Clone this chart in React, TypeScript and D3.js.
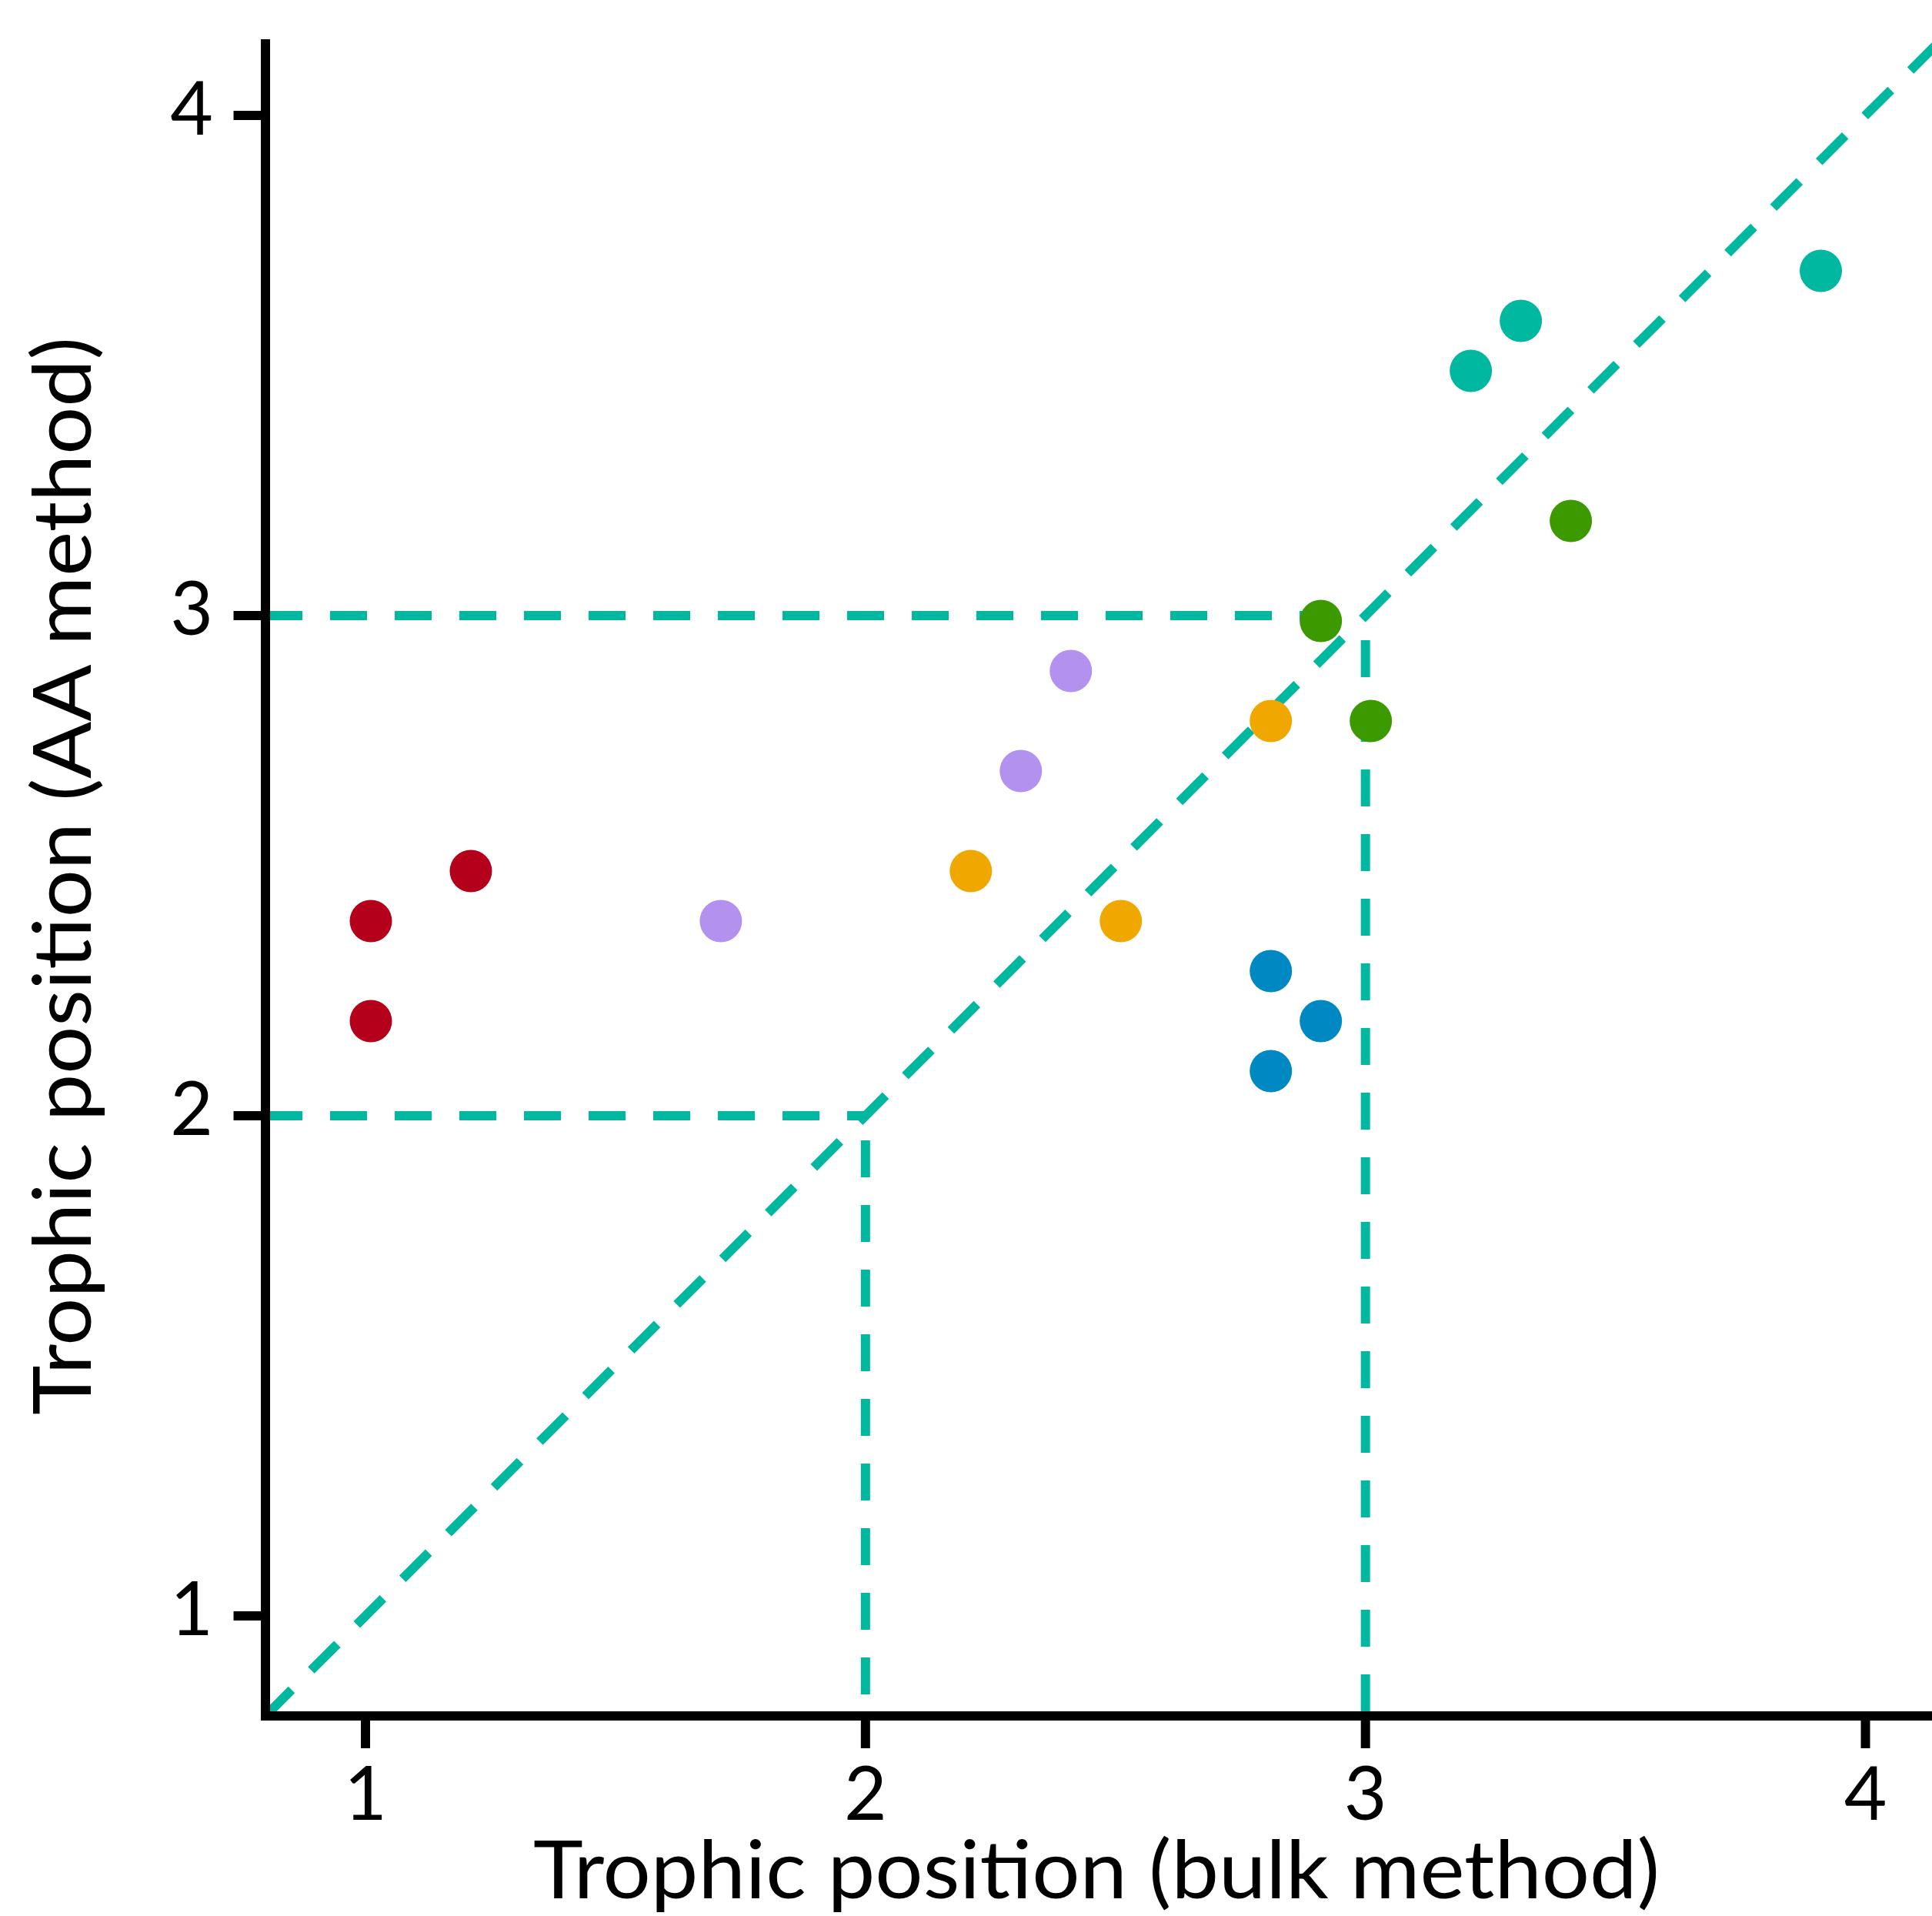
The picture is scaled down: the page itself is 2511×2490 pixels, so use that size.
import React, { useEffect, useRef } from 'react';
import * as d3 from 'd3';

// trophic positions
const groups = ['red', 'purple', 'orange', 'blue', 'green', 'teal'];
const groupColors = ['#b5001b', '#b292ee', '#f0a800', '#0088c2', '#3c9a00', '#00b8a0'];
const bulkTP = [1.0, 1.0, 1.2, 1.7, 2.3, 2.4, 2.2, 2.5, 2.8, 2.8, 2.9, 2.8, 2.9, 3.0, 3.4, 3.2, 3.3, 3.9];
const aaTP = [2.4, 2.2, 2.5, 2.4, 2.7, 2.9, 2.5, 2.4, 2.8, 2.3, 2.2, 2.1, 3.0, 2.8, 3.2, 3.5, 3.6, 3.7];
const pointGroup = [0, 0, 0, 1, 1, 1, 2, 2, 2, 3, 3, 3, 4, 4, 4, 5, 5, 5];
const tickValues = [1, 2, 3, 4];
// dashed guides: drop lines from the 1:1 line
const guideValues = [2, 3];

const xLabel = 'Trophic position (bulk method)';
const yLabel = 'Trophic position (AA method)';

function App() {
    const svgRef = useRef(null);

    useEffect(() => {
        document.body.style.margin = '0';
        const width = 2511;
        const height = 2490;
        const svg = d3.select(svgRef.current)
            .attr('width', width)
            .attr('height', height);
        svg.selectAll('*').remove();

        const x = d3.scaleLinear().domain([1, 4]).range([475, 2424.5]);
        const y = d3.scaleLinear().domain([1, 4]).range([2100, 150]);
        const lo = 0.8;
        const teal = '#00b8a0';
        const font = 'Lato, "Noto Sans", sans-serif';

        const dash = '48 36';

        // 1:1 line
        svg.append('line')
            .attr('x1', x(lo)).attr('y1', y(lo))
            .attr('x2', x(4.3)).attr('y2', y(4.3))
            .attr('stroke', teal)
            .attr('stroke-width', 12)
            .attr('stroke-dasharray', dash);

        guideValues.forEach(v => {
            svg.append('line')
                .attr('x1', x(lo)).attr('y1', y(v))
                .attr('x2', x(v)).attr('y2', y(v))
                .attr('stroke', teal)
                .attr('stroke-width', 12)
                .attr('stroke-dasharray', dash);
            svg.append('line')
                .attr('x1', x(v)).attr('y1', y(v))
                .attr('x2', x(v)).attr('y2', y(lo))
                .attr('stroke', teal)
                .attr('stroke-width', 12)
                .attr('stroke-dasharray', dash)
                .attr('stroke-dashoffset', 52);
        });

        // points (the original draws them nudged a few px right/down)
        svg.append('g')
            .attr('transform', 'translate(7,7)')
            .selectAll('circle')
            .data(bulkTP.map((b, i) => ({ b, a: aaTP[i], g: pointGroup[i] })))
            .enter()
            .append('circle')
            .attr('class', d => 'pt ' + groups[d.g])
            .attr('cx', d => x(d.b))
            .attr('cy', d => y(d.a))
            .attr('r', 27.5)
            .attr('fill', d => groupColors[d.g]);

        // axes
        const axisY = y(lo);
        const axisX = x(lo);
        svg.append('line')
            .attr('x1', axisX).attr('y1', 51)
            .attr('x2', axisX).attr('y2', axisY + 6)
            .attr('stroke', '#000').attr('stroke-width', 12);
        svg.append('line')
            .attr('x1', axisX - 6).attr('y1', axisY)
            .attr('x2', width).attr('y2', axisY)
            .attr('stroke', '#000').attr('stroke-width', 12);

        const xTicks = svg.append('g');
        tickValues.forEach(t => {
            xTicks.append('line')
                .attr('x1', x(t)).attr('x2', x(t))
                .attr('y1', axisY).attr('y2', axisY + 42)
                .attr('stroke', '#000').attr('stroke-width', 12);
            xTicks.append('text')
                .attr('x', x(t))
                .attr('y', axisY + 135)
                .attr('text-anchor', 'middle')
                .attr('font-family', font)
                .attr('font-size', 96)
                .attr('fill', '#000')
                .text(t);
        });

        const yTicks = svg.append('g');
        tickValues.forEach(t => {
            yTicks.append('line')
                .attr('x1', axisX - 41.5).attr('x2', axisX)
                .attr('y1', y(t)).attr('y2', y(t))
                .attr('stroke', '#000').attr('stroke-width', 12);
            yTicks.append('text')
                .attr('x', 277)
                .attr('y', y(t) + 24.5)
                .attr('text-anchor', 'end')
                .attr('font-family', font)
                .attr('font-size', 96)
                .attr('fill', '#000')
                .text(t);
        });

        // axis titles
        svg.append('text')
            .attr('x', 693)
            .attr('y', 2467)
            .attr('font-family', font)
            .attr('font-size', 104)
            .attr('fill', '#000')
            .attr('textLength', 1464)
            .attr('lengthAdjust', 'spacingAndGlyphs')
            .text(xLabel);

        svg.append('text')
            .attr('transform', 'translate(118,1839) rotate(-90)')
            .attr('font-family', font)
            .attr('font-size', 104)
            .attr('fill', '#000')
            .attr('textLength', 1401)
            .attr('lengthAdjust', 'spacingAndGlyphs')
            .text(yLabel);
    }, []);

    return (
        <svg ref={svgRef} style={{ display: 'block' }}></svg>
    );
}

export default App;
